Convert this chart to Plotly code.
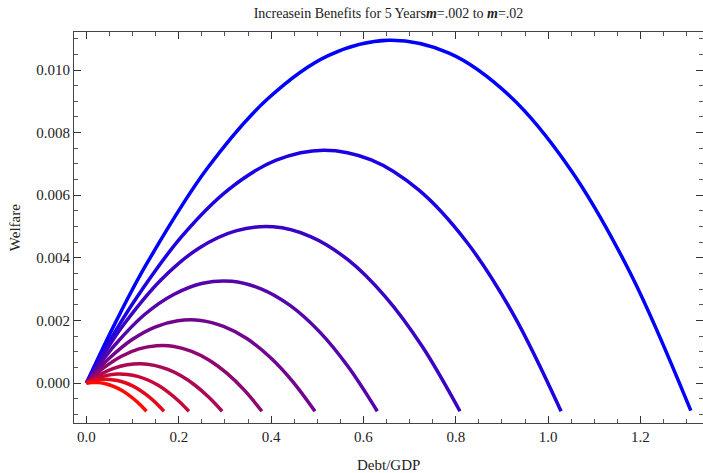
import plotly.graph_objects as go

# Benefit rate m for each curve (m = .002 ... .02), bluest curve first
m_values = [0.020, 0.018, 0.016, 0.014, 0.012, 0.010, 0.008, 0.006, 0.004, 0.002]

# Debt/GDP sample points and welfare gain along each curve
debt_m020 = [0, 0.0655, 0.1309, 0.2618, 0.3927, 0.5236, 0.6545, 0.7854, 0.9163, 1.0472, 1.1781, 1.309]
welf_m020 = [0, 0.00201, 0.00382, 0.00686, 0.00908, 0.01046, 0.01095, 0.01054, 0.00918, 0.00685, 0.00351, -0.00088]

debt_m018 = [0, 0.0514, 0.1028, 0.2056, 0.3084, 0.4112, 0.514, 0.6168, 0.7196, 0.8224, 0.9252, 1.028]
welf_m018 = [0, 0.00137, 0.00260, 0.00467, 0.00619, 0.00712, 0.00744, 0.00713, 0.00617, 0.00453, 0.00218, -0.00090]

debt_m016 = [0, 0.04045, 0.0809, 0.1618, 0.2427, 0.3236, 0.4045, 0.4854, 0.5663, 0.6472, 0.7281, 0.809]
welf_m016 = [0, 0.000989, 0.00187, 0.00330, 0.00430, 0.00486, 0.00499, 0.00468, 0.00394, 0.00276, 0.00115, -0.00090]

debt_m014 = [0, 0.0315, 0.063, 0.126, 0.189, 0.252, 0.315, 0.378, 0.441, 0.504, 0.567, 0.630]
welf_m014 = [0, 0.000657, 0.00124, 0.00219, 0.00283, 0.00319, 0.00325, 0.00301, 0.00248, 0.00165, 0.00052, -0.00090]

debt_m012 = [0, 0.02475, 0.0495, 0.099, 0.1485, 0.198, 0.2475, 0.297, 0.3465, 0.396, 0.4455, 0.495]
welf_m012 = [0, 0.000420, 0.000792, 0.00139, 0.00179, 0.00199, 0.00200, 0.00181, 0.00143, 0.000848, 0.0000717, -0.00090]

debt_m010 = [0, 0.019, 0.038, 0.076, 0.114, 0.152, 0.190, 0.228, 0.266, 0.304, 0.342, 0.380]
welf_m010 = [0, 0.000263, 0.000493, 0.000856, 0.00109, 0.00119, 0.00117, 0.00101, 0.000730, 0.000316, -0.000227, -0.00090]

debt_m008 = [0, 0.0147, 0.0294, 0.0588, 0.0882, 0.1176, 0.147, 0.1764, 0.2058, 0.2352, 0.2646, 0.294]
welf_m008 = [0, 0.000148, 0.000275, 0.000470, 0.000583, 0.000615, 0.000565, 0.000435, 0.000223, -0.0000703, -0.000445, -0.00090]

debt_m006 = [0, 0.0111, 0.0222, 0.0444, 0.0666, 0.0888, 0.111, 0.1332, 0.1554, 0.1776, 0.1998, 0.222]
welf_m006 = [0, 0.0000811, 0.000149, 0.000245, 0.000288, 0.000277, 0.000214, 0.0000971, -0.0000726, -0.000295, -0.000571, -0.00090]

debt_m004 = [0, 0.0084, 0.0168, 0.0336, 0.0504, 0.0672, 0.084, 0.1008, 0.1176, 0.1344, 0.1512, 0.168]
welf_m004 = [0, 0.0000424, 0.0000756, 0.000114, 0.000116, 0.0000815, 0.0000099, -0.0000985, -0.000244, -0.000426, -0.000644, -0.00090]

debt_m002 = [0, 0.0065, 0.013, 0.026, 0.039, 0.052, 0.065, 0.078, 0.091, 0.104, 0.117, 0.130]
welf_m002 = [0, 0.0000125, 0.0000190, 0.0000138, -0.0000156, -0.0000693, -0.000147, -0.000249, -0.000376, -0.000526, -0.000701, -0.00090]

x_tick_vals = [0.0, 0.2, 0.4, 0.6, 0.8, 1.0, 1.2]
y_tick_vals = [0.000, 0.002, 0.004, 0.006, 0.008, 0.010]

curves = [
    (debt_m020, welf_m020), (debt_m018, welf_m018), (debt_m016, welf_m016),
    (debt_m014, welf_m014), (debt_m012, welf_m012), (debt_m010, welf_m010),
    (debt_m008, welf_m008), (debt_m006, welf_m006), (debt_m004, welf_m004),
    (debt_m002, welf_m002),
]

m_lo, m_hi = min(m_values), max(m_values)

fig = go.Figure()
for m, (xs, ys) in zip(m_values, curves):
    # blend from red (smallest m) to blue (largest m)
    t = (m - m_lo) / (m_hi - m_lo)
    color = f"rgb({round(255 * (1 - t))},{round(10 * (1 - t))},{round(255 * t)})"
    fig.add_trace(go.Scatter(
        x=xs, y=ys, mode="lines",
        line=dict(color=color, width=3.5, shape="spline", smoothing=1.0),
        showlegend=False, hoverinfo="skip",
    ))

serif = "Liberation Serif, Times New Roman, serif"
axis_common = dict(
    showline=True, linecolor="#444", linewidth=1, mirror="allticks",
    ticks="inside", ticklen=7, tickwidth=1, tickcolor="#333",
    showgrid=False, zeroline=False,
    tickfont=dict(family=serif, size=15, color="#222"),
)

fig.update_xaxes(
    range=[-0.0269, 1.3354], tickvals=x_tick_vals, tickformat=".1f",
    minor=dict(ticks="inside", dtick=0.05, ticklen=4, tickcolor="#555", showgrid=False),
    **axis_common,
)
fig.update_yaxes(
    range=[-0.001276, 0.011215], tickvals=y_tick_vals, tickformat=".3f",
    minor=dict(ticks="inside", dtick=0.0005, ticklen=4, tickcolor="#555", showgrid=False),
    **axis_common,
)

fig.update_layout(
    width=703, height=473,
    margin=dict(l=74, r=0, t=32, b=50),
    paper_bgcolor="white", plot_bgcolor="white",
    title=dict(
        text="Increasein Benefits for 5 Years<b><i>m</i></b>=.002 to <b><i>m</i></b>=.02",
        x=0.5, xref="paper", xanchor="center",
        y=1 - 13 / 473, yref="container", yanchor="middle",
        font=dict(family=serif, size=14, color="#222"),
    ),
    annotations=[
        dict(text="Debt/GDP", xref="paper", yref="paper", x=0.5, y=-0.1065,
             xanchor="center", yanchor="middle", showarrow=False,
             font=dict(family=serif, size=15, color="#222")),
        dict(text="Welfare", xref="paper", yref="paper", x=-0.0943, y=0.5,
             xanchor="center", yanchor="middle", textangle=-90, showarrow=False,
             font=dict(family=serif, size=15, color="#222")),
    ],
)

fig.write_html("out.html")
